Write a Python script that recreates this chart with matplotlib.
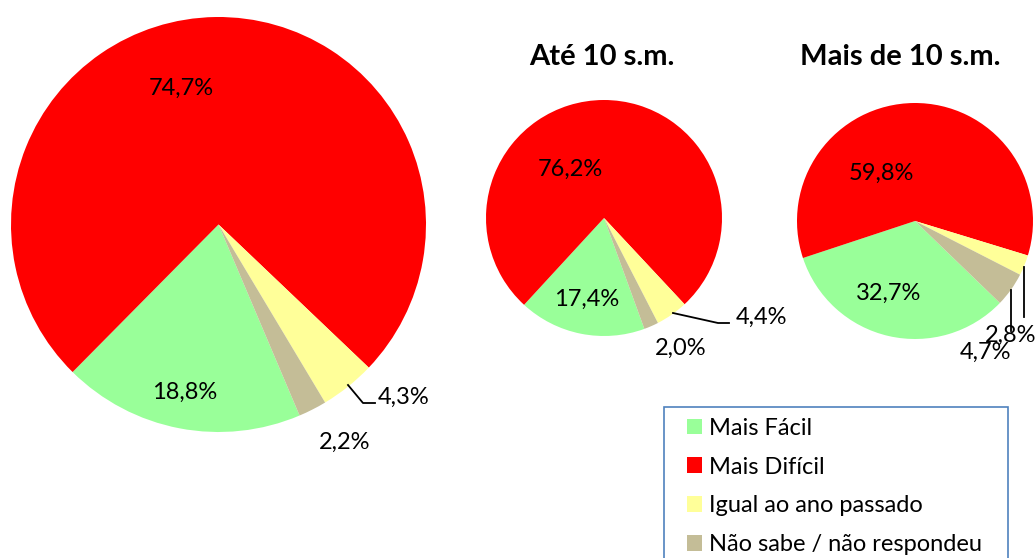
"""Three pies: overall, up to 10 s.m., more than 10 s.m."""
import matplotlib
matplotlib.use("Agg")
import matplotlib.pyplot as plt
from matplotlib.patches import Patch, Rectangle

plt.rcParams["font.family"] = ["Lato", "DejaVu Sans"]

# ---- data ----
categories = ["Mais Fácil", "Mais Difícil", "Igual ao ano passado", "Não sabe / não respondeu"]
colors = ["#99FF99", "#FF0000", "#FFFF99", "#C4BD97"]

total = [18.8, 74.7, 4.3, 2.2]
ate_10 = [17.4, 76.2, 4.4, 2.0]
mais_10 = [32.7, 59.8, 2.8, 4.7]

titles = ["", "Até 10 s.m.", "Mais de 10 s.m."]

W, H = 1035, 558
fig = plt.figure(figsize=(W / 100, H / 100), dpi=100)
ax = fig.add_axes([0, 0, 1, 1])


def fmt(v):
    return f"{v:.1f}%".replace(".", ",")


# layout in image pixels (y measured from top)
pies = [
    # values, centre, radius, first-slice angle (clockwise from 12 o'clock)
    (total, (218.5, 224.5), 207.5, 157),
    (ate_10, (604, 218), 118, 160),
    (mais_10, (915, 221), 118, 134),
]
label_pos = [
    [(185, 392), (181, 88), (404, 397), (345, 442)],
    [(587, 299), (570, 169), (761, 317), (681, 348)],
    [(889, 293), (881, 173), (1011, 335), (986, 352)],
]
leaders = [
    [[(348, 385), (363, 403), (375, 403)]],
    [[(673, 313), (718, 323), (729, 323)]],
    [[(1024, 267), (1024, 317)], [(1011, 290), (1011, 331)]],
]

for (vals, (cx, cy), r, first), lpos, lines in zip(pies, label_pos, leaders):
    ax.pie(vals, colors=colors, center=(cx, H - cy), radius=r,
           startangle=90 - first, counterclock=False, frame=True,
           wedgeprops=dict(linewidth=0))
    for v, (x, y) in zip(vals, lpos):
        ax.text(x, H - y, fmt(v), ha="center", va="center", fontsize=17, color="black")
    for seg in lines:
        ax.plot([p[0] for p in seg], [H - p[1] for p in seg], color="black", lw=1.3)

title_pos = [(0, 0), (602, 57), (900, 57)]
for t, (x, y) in zip(titles, title_pos):
    if t:
        ax.text(x, H - y, t, ha="center", va="center", fontsize=21, fontweight="bold")

# legend box (runs off the bottom edge like the original)
ax.add_patch(Rectangle((664, -5), 344, H - 407 + 5, facecolor="white",
                       edgecolor="#4F81BD", lw=1.2, zorder=3))
handles = [Patch(facecolor=c, edgecolor="none") for c in colors]
leg = ax.legend(handles, categories, loc="upper left", frameon=False,
                bbox_to_anchor=(675 / W, (H - 406) / H), bbox_transform=fig.transFigure,
                fontsize=17, borderpad=0, handlelength=0.66, handleheight=0.66,
                handletextpad=0.3, labelspacing=0.75)
leg.set_zorder(4)

ax.set_xlim(0, W)
ax.set_ylim(0, H)
ax.set_aspect("equal")
ax.axis("off")

fig.savefig("out.png", dpi=100)
